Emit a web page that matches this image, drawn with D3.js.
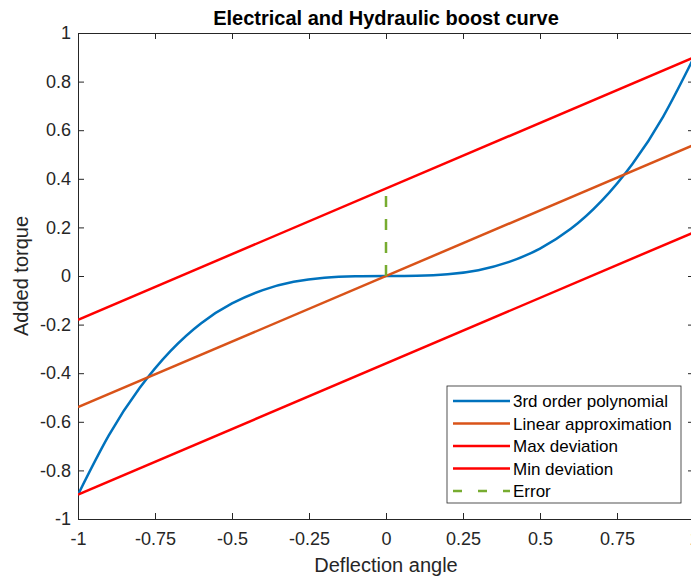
<!DOCTYPE html>
<html>
<head>
<meta charset="utf-8">
<script src="https://cdn.jsdelivr.net/npm/d3@7"></script>
<style>
  body { margin: 0; background: #fff; }
  svg { display: block; font-family: "Liberation Sans", Arial, sans-serif; }
</style>
</head>
<body>
<svg></svg>
<script>
// deflection angle samples and the cubic boost curve
var angles = [-1, -0.9, -0.8, -0.7, -0.6, -0.5, -0.4, -0.3, -0.2, -0.1, 0,
              0.1, 0.2, 0.3, 0.4, 0.5, 0.6, 0.7, 0.8, 0.9, 1];
var cubicTorque = [-0.9, -0.656, -0.461, -0.309, -0.194, -0.113, -0.058, -0.024, -0.007, -0.001, 0,
                   0.001, 0.007, 0.024, 0.058, 0.113, 0.194, 0.309, 0.461, 0.656, 0.9];

// straight lines: end points at x = -1 and x = 1
var lineX = [-1, 1];
var linearTorque = [-0.54, 0.54];
var maxDevTorque = [-0.18, 0.9];
var minDevTorque = [-0.9, 0.18];

// the dashed error marker at x = 0
var errorX = [0, 0];
var errorY = [0, 0.34];

var xTicks = [-1, -0.75, -0.5, -0.25, 0, 0.25, 0.5, 0.75, 1];
var yTicks = [-1, -0.8, -0.6, -0.4, -0.2, 0, 0.2, 0.4, 0.6, 0.8, 1];

var legendNames = ["3rd order polynomial", "Linear approximation", "Max deviation", "Min deviation", "Error"];
var colors = ["#0072BD", "#D95319", "#FF0000", "#FF0000", "#77AC30"];

var svgWidth = 691, svgHeight = 579;
// note: "top" is taken by window.top, so plot edges get a prefix
var plotLeft = 78, plotRight = 694, plotTop = 33, plotBottom = 519;

var svg = d3.select("svg")
    .attr("width", svgWidth)
    .attr("height", svgHeight);

var x = d3.scaleLinear().domain([-1, 1]).range([plotLeft, plotRight]);
var y = d3.scaleLinear().domain([-1, 1]).range([plotBottom, plotTop]);

var fmt = function(d) { return String(d); };

// axes, ticks pointing inward like matlab
var axisColor = "#262626";
function styleAxis(g) {
    g.select(".domain").attr("stroke", axisColor);
    g.selectAll(".tick line").attr("stroke", axisColor);
    g.selectAll(".tick text").attr("fill", axisColor).style("font-size", "18px")
        .style("font-family", "'Liberation Sans', Arial, sans-serif");
}

svg.append("g")
    .attr("transform", "translate(0," + plotBottom + ")")
    .call(d3.axisBottom(x).tickValues(xTicks).tickFormat(fmt).tickSizeInner(-6).tickSizeOuter(0).tickPadding(13))
    .call(styleAxis);

svg.append("g")
    .attr("transform", "translate(0," + plotTop + ")")
    .call(d3.axisTop(x).tickValues(xTicks).tickFormat("").tickSizeInner(-6).tickSizeOuter(0))
    .call(styleAxis);

svg.append("g")
    .attr("transform", "translate(" + plotLeft + ",0)")
    .call(d3.axisLeft(y).tickValues(yTicks).tickFormat(fmt).tickSizeInner(-6).tickSizeOuter(0).tickPadding(7))
    .call(styleAxis);

svg.append("g")
    .attr("transform", "translate(" + plotRight + ",0)")
    .call(d3.axisRight(y).tickValues(yTicks).tickFormat("").tickSizeInner(-6).tickSizeOuter(0))
    .call(styleAxis);

var line = d3.line()
    .x(function(d) { return x(d[0]); })
    .y(function(d) { return y(d[1]); });

var series = [
    d3.zip(angles, cubicTorque),
    d3.zip(lineX, linearTorque),
    d3.zip(lineX, maxDevTorque),
    d3.zip(lineX, minDevTorque),
    d3.zip(errorX, errorY)
];

svg.append("clipPath").attr("id", "plotclip")
  .append("rect").attr("x", plotLeft).attr("y", plotTop)
  .attr("width", plotRight - plotLeft).attr("height", plotBottom - plotTop);

var plot = svg.append("g").attr("clip-path", "url(#plotclip)");

// draw order: polynomial first, then linear, deviations, error
plot.selectAll("path.series")
    .data(series)
    .enter()
    .append("path")
    .attr("class", "series")
    .attr("fill", "none")
    .attr("stroke", function(d, i) { return colors[i]; })
    .attr("stroke-width", 2.5)
    .attr("stroke-dasharray", function(d, i) { return i == 4 ? "11,12" : null; })
    .attr("d", function(d, i) {
        return i == 0 ? line.curve(d3.curveNatural)(d) : line.curve(d3.curveLinear)(d);
    });

// title and axis labels
svg.append("text")
    .attr("x", (plotLeft + plotRight) / 2)
    .attr("y", 25)
    .attr("text-anchor", "middle")
    .style("font-size", "20px")
    .style("font-weight", "bold")
    .text("Electrical and Hydraulic boost curve");

svg.append("text")
    .attr("x", (plotLeft + plotRight) / 2)
    .attr("y", 572)
    .attr("text-anchor", "middle")
    .attr("fill", axisColor)
    .style("font-size", "20px")
    .text("Deflection angle");

svg.append("text")
    .attr("transform", "translate(28," + (plotTop + plotBottom) / 2 + ") rotate(-90)")
    .attr("text-anchor", "middle")
    .attr("fill", axisColor)
    .style("font-size", "20px")
    .text("Added torque");

// legend
var legend = svg.append("g").attr("transform", "translate(447,386)");
legend.append("rect")
    .attr("width", 234).attr("height", 117)
    .attr("fill", "#fff").attr("stroke", axisColor).attr("stroke-width", 0.8);

var item = legend.selectAll("g.item")
    .data(legendNames)
    .enter()
    .append("g")
    .attr("class", "item")
    .attr("transform", function(d, i) { return "translate(0," + (15 + i * 22.5) + ")"; });

item.append("line")
    .attr("x1", 6).attr("x2", 63)
    .attr("stroke", function(d, i) { return colors[i]; })
    .attr("stroke-width", 2.5)
    .attr("stroke-dasharray", function(d, i) { return i == 4 ? "9,16" : null; });

item.append("text")
    .attr("x", 66)
    .attr("y", 6)
    .style("font-size", "17px")
    .text(function(d) { return d; });
</script>
</body>
</html>
